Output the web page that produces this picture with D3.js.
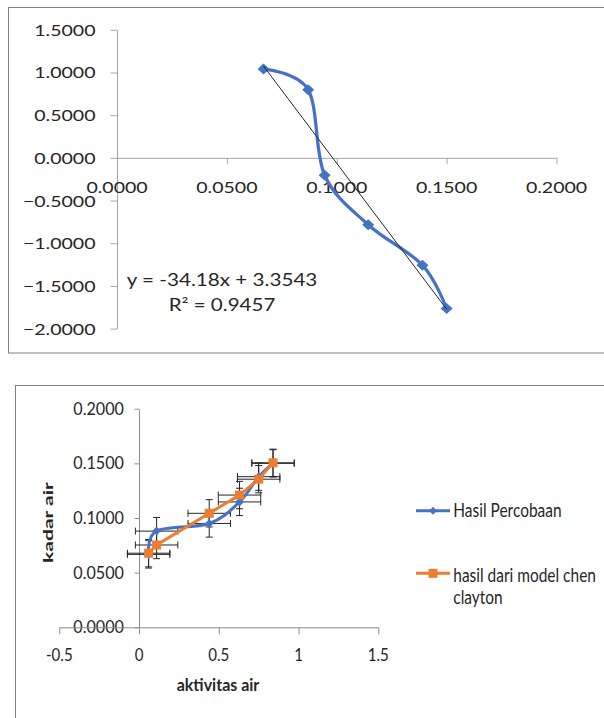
<!DOCTYPE html>
<html>
<head>
<meta charset="utf-8">
<script src="https://cdn.jsdelivr.net/npm/d3@7"></script>
<style>
  body { margin: 0; background: #fff; }
  svg { display: block; }
  text { font-family: Lato, "Open Sans", sans-serif; fill: #262626; }
</style>
</head>
<body>
<script>
//data
//top chart: kadar air (x) against ln(-ln aw) (y)
var kadarAir = [0.0667, 0.0870, 0.0945, 0.1143, 0.1390, 0.1500];
var lnLnAw = [1.040, 0.797, -0.204, -0.783, -1.257, -1.765];
var trendSlope = -34.18, trendIntercept = 3.3543;
var trendLabels = ["y = -34.18x + 3.3543", "R\u00B2 = 0.9457"];
var topXTicks = [0, 0.05, 0.1, 0.15, 0.2];
var topYTicks = [1.5, 1.0, 0.5, 0, -0.5, -1.0, -1.5, -2.0];

//bottom chart: aktivitas air (x) against kadar air (y)
var aktivitasAir = [0.06, 0.11, 0.44, 0.63, 0.75, 0.84];
var hasilPercobaan = [0.0667, 0.0880, 0.0950, 0.1147, 0.1378, 0.1500];
var hasilModel = [0.0678, 0.0753, 0.1043, 0.1210, 0.1355, 0.1505];
var errX = 0.133, errY = 0.0125;
var legendLabels = [["Hasil Percobaan"], ["hasil dari model chen", "clayton"]];
var bottomXTicks = [-0.5, 0, 0.5, 1, 1.5];
var bottomYTicks = [0, 0.05, 0.1, 0.15, 0.2];
var xTitle = "aktivitas air", yTitle = "kadar air";

(function(){
    var blue = "#4472C4", orange = "#ED7D31";

    var svg = d3.select("body").append("svg")
        .attr("width", 604)
        .attr("height", 718);

    //adds labels, stretched so the first one gets the width seen in the picture
    function addText(g, items, o){
        var t = g.selectAll(null)
            .data(items)
            .enter()
            .append("text")
            .text(function(d){ return d.t; })
            .style("font-size", o.size + "px")
            .style("font-weight", o.weight || "normal")
            .attr("text-anchor", o.anchor || "start");
        var k = o.width ? o.width / t.node().getComputedTextLength() : 1;
        t.attr("transform", function(d){
            return "translate(" + d.x + "," + d.y + ")" +
                (o.rotate ? " rotate(" + o.rotate + ")" : "") +
                " scale(" + k + "," + (o.ky || 1) + ")";
        });
        return t;
    }

    function diamond(rx, ry){
        return "M0," + (-ry) + "L" + rx + ",0L0," + ry + "L" + (-rx) + ",0Z";
    }

    function styleAxis(g, color){
        g.selectAll("path, line").attr("stroke", color).attr("stroke-width", 1);
        g.selectAll("text").remove();
    }

    // ---------- top chart ----------
    svg.append("rect")
        .attr("x", 8.5).attr("y", 7.5)
        .attr("width", 640).attr("height", 345.5)
        .attr("fill", "none")
        .attr("stroke", "#808080");

    var xTop = d3.scaleLinear().domain([0, 0.2]).range([117, 556.5]);
    var yTop = d3.scaleLinear().domain([-2, 1.5]).range([328.6, 29.8]);
    var topG = svg.append("g");

    topG.append("g")
        .attr("transform", "translate(0," + yTop(0) + ")")
        .call(d3.axisBottom(xTop).tickValues(topXTicks).tickSize(6).tickSizeOuter(0))
        .call(styleAxis, "#A6A6A6");
    topG.append("g")
        .attr("transform", "translate(" + xTop(0) + ",0)")
        .call(d3.axisLeft(yTop).tickValues(topYTicks).tickSize(6.5).tickSizeOuter(0))
        .call(styleAxis, "#A6A6A6");

    var fmt4 = d3.format(".4f");
    addText(topG, topYTicks.map(function(v){ return {t: fmt4(v), x: 95.5, y: yTop(v) + 6}; }),
        {size: 16, anchor: "end", width: 61.3});
    addText(topG, topXTicks.map(function(v){ return {t: fmt4(v), x: xTop(v), y: 193}; }),
        {size: 16, anchor: "middle", width: 61.3});

    var topPts = kadarAir.map(function(v, i){ return [xTop(v), yTop(lnLnAw[i])]; });
    topG.append("path")
        .attr("d", d3.line().curve(d3.curveCardinal)(topPts))
        .attr("fill", "none")
        .attr("stroke", blue)
        .attr("stroke-width", 3.25);
    topG.selectAll(".mk")
        .data(topPts)
        .enter()
        .append("path")
        .attr("transform", function(d){ return "translate(" + d + ")"; })
        .attr("d", diamond(6, 5.5))
        .attr("fill", blue);

    //linear trendline
    var tx = [kadarAir[0], kadarAir[kadarAir.length - 1]];
    topG.append("line")
        .attr("x1", xTop(tx[0])).attr("y1", yTop(trendSlope * tx[0] + trendIntercept))
        .attr("x2", xTop(tx[1])).attr("y2", yTop(trendSlope * tx[1] + trendIntercept))
        .attr("stroke", "#262626")
        .attr("stroke-width", 1);

    addText(topG, [{t: trendLabels[0], x: 222, y: 286}], {size: 17, anchor: "middle", width: 190.7});
    addText(topG, [{t: trendLabels[1], x: 222, y: 310.5}], {size: 17, anchor: "middle", width: 106.7});

    // ---------- bottom chart ----------
    svg.append("rect")
        .attr("x", 15.5).attr("y", 385.5)
        .attr("width", 640).attr("height", 400)
        .attr("fill", "none")
        .attr("stroke", "#808080");

    var xB = d3.scaleLinear().domain([-0.5, 1.5]).range([59.3, 378.3]);
    var yB = d3.scaleLinear().domain([0, 0.2]).range([627.3, 408.7]);
    var bot = svg.append("g");

    addText(bot, bottomYTicks.map(function(v){ return {t: fmt4(v), x: 124, y: yB(v) + 6}; }),
        {size: 16.5, anchor: "end", width: 50.7});
    addText(bot, bottomXTicks.map(function(v){ return {t: String(v), x: xB(v), y: 661}; }),
        {size: 16.5, anchor: "middle", width: 26.7});

    bot.append("g")
        .attr("transform", "translate(0," + yB(0) + ")")
        .call(d3.axisBottom(xB).tickValues(bottomXTicks).tickSize(7).tickSizeOuter(0))
        .call(styleAxis, "#8C8C8C");
    bot.append("g")
        .attr("transform", "translate(" + xB(0) + ",0)")
        .call(d3.axisLeft(yB).tickValues(bottomYTicks).tickSize(4.5).tickSizeOuter(0))
        .call(styleAxis, "#8C8C8C");

    addText(bot, [{t: xTitle, x: 218, y: 691}], {size: 17.5, weight: "bold", anchor: "middle", width: 82.7});
    addText(bot, [{t: yTitle, x: 53, y: 522.5}], {size: 14, weight: "bold", anchor: "middle", width: 81, rotate: -90, ky: 0.9});

    //error bars for both series
    var cap = 3.5;
    var eb = bot.append("g").attr("stroke", "#262626").attr("stroke-width", 1);
    [hasilPercobaan, hasilModel].forEach(function(ys){
        ys.forEach(function(v, i){
            var cx = xB(aktivitasAir[i]), cy = yB(v);
            var y0 = yB(v - errY), y1 = yB(v + errY);
            var x0 = xB(aktivitasAir[i] - errX), x1 = xB(aktivitasAir[i] + errX);
            eb.append("line").attr("x1", cx).attr("x2", cx).attr("y1", y0).attr("y2", y1);
            eb.append("line").attr("x1", cx - cap).attr("x2", cx + cap).attr("y1", y0).attr("y2", y0);
            eb.append("line").attr("x1", cx - cap).attr("x2", cx + cap).attr("y1", y1).attr("y2", y1);
            eb.append("line").attr("x1", x0).attr("x2", x1).attr("y1", cy).attr("y2", cy);
            eb.append("line").attr("x1", x0).attr("x2", x0).attr("y1", cy - cap).attr("y2", cy + cap);
            eb.append("line").attr("x1", x1).attr("x2", x1).attr("y1", cy - cap).attr("y2", cy + cap);
        });
    });

    var bluePts = aktivitasAir.map(function(v, i){ return [xB(v), yB(hasilPercobaan[i])]; });
    var orangePts = aktivitasAir.map(function(v, i){ return [xB(v), yB(hasilModel[i])]; });

    bot.append("path")
        .attr("d", d3.line().curve(d3.curveCardinal)(bluePts))
        .attr("fill", "none")
        .attr("stroke", blue)
        .attr("stroke-width", 3);
    bot.selectAll(".bmk")
        .data(bluePts)
        .enter()
        .append("path")
        .attr("transform", function(d){ return "translate(" + d + ")"; })
        .attr("d", diamond(4.2, 4.5))
        .attr("fill", blue);

    bot.append("path")
        .attr("d", d3.line()(orangePts))
        .attr("fill", "none")
        .attr("stroke", orange)
        .attr("stroke-width", 3);
    bot.selectAll(".omk")
        .data(orangePts)
        .enter()
        .append("rect")
        .attr("x", function(d){ return d[0] - 4.5; })
        .attr("y", function(d){ return d[1] - 4.5; })
        .attr("width", 9)
        .attr("height", 9)
        .attr("fill", orange);

    //legend
    var lg = bot.append("g");
    var legY = [510.7, 573.3];
    lg.append("line").attr("x1", 416).attr("x2", 450).attr("y1", legY[0]).attr("y2", legY[0])
        .attr("stroke", blue).attr("stroke-width", 3);
    lg.append("path").attr("transform", "translate(433," + legY[0] + ")")
        .attr("d", diamond(3.8, 4)).attr("fill", blue);
    lg.append("line").attr("x1", 416).attr("x2", 450).attr("y1", legY[1]).attr("y2", legY[1])
        .attr("stroke", orange).attr("stroke-width", 3);
    lg.append("rect").attr("x", 433 - 4.5).attr("y", legY[1] - 4.5)
        .attr("width", 9).attr("height", 9).attr("fill", orange);

    addText(lg, [
            {t: legendLabels[0][0], x: 453.3, y: 517},
            {t: legendLabels[1][0], x: 453.3, y: 581.5},
            {t: legendLabels[1][1], x: 453.3, y: 603.8}
        ], {size: 19, width: 108.3});
})();
</script>
</body>
</html>
